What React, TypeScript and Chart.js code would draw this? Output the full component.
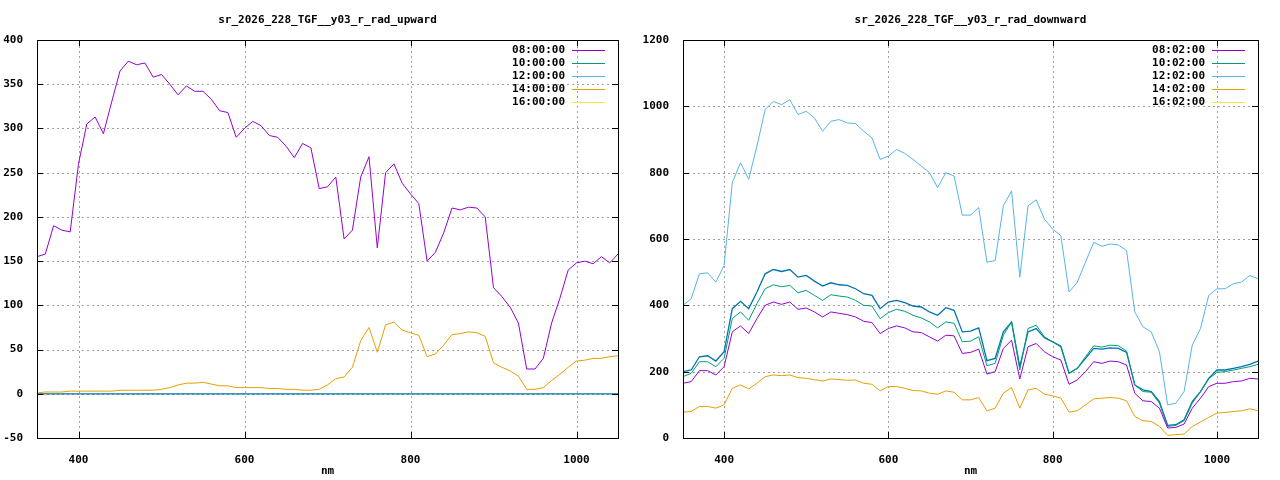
import React, { useEffect, useRef } from "react";
import { Chart, registerables } from "chart.js";
Chart.register(...registerables);

const wavelengths = Array.from({ length: 71 }, (_, i) => 350 + i * 10);
const xTicks = [400, 600, 800, 1000];

const upLabels = ["08:00:00", "10:00:00", "12:00:00", "14:00:00", "16:00:00"];
const downLabels = ["08:02:00", "10:02:00", "12:02:00", "14:02:00", "16:02:00"];
const colors = ["#9400d3", "#009e73", "#56b4e9", "#e69f00", "#f0e442", "#0072b2"];

const up08 = [155,158,190,185,183,260,305,313,294,330,365,376,372,374,358,361,350,338,348,342,342,333,320,318,290,300,308,303,292,290,280,267,283,278,232,234,245,175,185,245,268,165,250,260,238,226,215,150,160,182,210,208,211,210,200,120,110,98,80,28,28,40,80,108,140,148,150,147,155,148,158];
const up14 = [1,2,2,2,3,3,3,3,3,3,4,4,4,4,4,5,7,10,12,12,13,11,9,9,7,7,7,7,6,6,5,5,4,4,5,10,17,19,30,60,75,47,78,81,72,69,66,42,45,55,67,68,70,69,65,35,30,26,20,5,5,7,15,22,30,37,38,40,40,42,43];
const upZero = wavelengths.map(() => 0);

const dn08 = [165,170,203,203,190,215,320,338,315,360,400,410,403,410,388,392,380,365,380,376,372,365,352,348,315,330,338,332,320,318,305,292,310,308,255,258,268,193,200,270,295,178,275,285,260,245,235,162,175,200,230,225,232,230,220,135,112,110,90,30,32,42,90,120,155,165,165,170,172,180,178];
const dn10 = [185,195,230,230,215,240,360,380,355,405,450,462,456,460,438,445,430,415,432,428,425,415,400,398,360,378,388,382,370,362,350,332,350,346,290,292,305,218,225,310,350,205,330,340,305,290,278,195,210,245,278,274,280,278,262,160,140,138,105,35,38,52,105,140,178,198,200,205,210,215,222];
const dn12 = [400,420,495,498,470,520,770,830,780,880,990,1015,1005,1020,975,985,965,925,955,960,950,948,925,905,840,850,870,858,840,820,800,755,800,790,672,672,695,530,535,700,745,485,700,718,660,630,610,440,470,530,590,578,585,582,565,380,335,320,260,100,105,140,280,330,430,450,450,465,470,490,480];
const dn14 = [78,80,95,95,90,100,150,160,148,165,185,190,188,190,182,180,176,172,178,176,174,175,165,162,142,155,155,150,143,142,135,132,142,138,115,115,122,82,90,135,152,90,145,150,132,127,120,78,82,100,118,120,122,120,112,65,52,50,35,8,10,12,35,48,62,75,77,80,82,88,82];
const dn16x = [200,205,245,248,232,260,390,412,390,440,495,508,502,508,485,490,473,458,468,462,460,450,435,430,390,410,415,408,398,395,380,370,393,385,320,322,332,233,240,320,350,215,320,330,302,290,275,195,210,240,270,268,272,270,258,160,145,140,110,38,40,55,110,140,180,205,205,210,215,222,232];

const FONT = "'DejaVu Sans Mono', monospace";

function pts(v: number[]) {
  return v.map((y, i) => ({ x: wavelengths[i], y }));
}

const framePlugin = (title: string, labels: string[]) => ({
  id: "frame",
  beforeDatasetsDraw(chart: any) {
    const { ctx, chartArea: a } = chart;
    const xs = chart.scales.x, ys = chart.scales.y;
    ctx.save();
    ctx.strokeStyle = "#a0a0a0";
    ctx.lineWidth = 1;
    ctx.setLineDash([2, 3]);
    ctx.beginPath();
    xs.ticks.forEach((t: any) => {
      const px = Math.round(xs.getPixelForValue(t.value)) + 0.5;
      ctx.moveTo(px, a.bottom); ctx.lineTo(px, a.top);
    });
    ys.ticks.forEach((t: any) => {
      const py = Math.round(ys.getPixelForValue(t.value)) + 0.5;
      ctx.moveTo(a.left, py); ctx.lineTo(a.right, py);
    });
    ctx.stroke();
    ctx.restore();
  },
  afterDraw(chart: any) {
    const { ctx, chartArea: a } = chart;
    ctx.save();
    ctx.strokeStyle = "#000";
    ctx.lineWidth = 1;
    ctx.strokeRect(a.left + 0.5, a.top + 0.5, a.right - a.left, a.bottom - a.top);
    const xs = chart.scales.x, ys = chart.scales.y;
    ctx.beginPath();
    xs.ticks.forEach((t: any) => {
      const px = Math.round(xs.getPixelForValue(t.value)) + 0.5;
      ctx.moveTo(px, a.bottom); ctx.lineTo(px, a.bottom - 6);
      ctx.moveTo(px, a.top); ctx.lineTo(px, a.top + 6);
    });
    ys.ticks.forEach((t: any) => {
      const py = Math.round(ys.getPixelForValue(t.value)) + 0.5;
      ctx.moveTo(a.left, py); ctx.lineTo(a.left + 6, py);
      ctx.moveTo(a.right, py); ctx.lineTo(a.right - 6, py);
    });
    ctx.stroke();
    ctx.fillStyle = "#000";
    ctx.font = `bold 11px ${FONT}`;
    ctx.textAlign = "center";
    ctx.textBaseline = "middle";
    ctx.fillText(title, (a.left + a.right) / 2, 20);
    ctx.fillText("nm", (a.left + a.right) / 2, 471);
    ctx.textAlign = "right";
    labels.forEach((l, i) => {
      const y = a.top + 10 + i * 13;
      ctx.fillStyle = "#000";
      ctx.fillText(l, a.right - 53, y);
      ctx.strokeStyle = colors[i];
      ctx.beginPath();
      ctx.moveTo(a.right - 46, y + 0.5);
      ctx.lineTo(a.right - 13, y + 0.5);
      ctx.stroke();
    });
    ctx.restore();
  },
});

function Panel({ left, title, labels, series, yMin, yMax, yStep, yWidth }: any) {
  const ref = useRef<HTMLCanvasElement>(null);
  useEffect(() => {
    const chart = new Chart(ref.current!, {
      type: "line",
      data: {
        datasets: series.map((s: number[], i: number) => ({
          label: i < 5 ? labels[i] : "",
          data: pts(s),
          borderColor: colors[i],
          borderWidth: i === 5 ? 1.3 : 1,
          pointRadius: 0,
          fill: false,
          tension: 0,
        })),
      },
      options: {
        animation: false,
        responsive: false,
        devicePixelRatio: 1,
        layout: { padding: { top: 40, right: 22, left: 0, bottom: 0 } },
        plugins: { legend: { display: false }, title: { display: false }, tooltip: { enabled: false } },
        scales: {
          x: {
            type: "linear",
            min: 350,
            max: 1050,
            afterBuildTicks: (s: any) => { s.ticks = xTicks.map((v) => ({ value: v })); },
            afterFit: (s: any) => { s.height = 42; },
            grid: { display: false },
            border: { display: false },
            ticks: { color: "#000", font: { family: FONT, size: 11, weight: "bold" }, padding: 8, maxRotation: 0, callback: (v: any) => String(v) },
          },
          y: {
            min: yMin,
            max: yMax,
            afterFit: (s: any) => { s.width = yWidth; },
            grid: { display: false },
            border: { display: false },
            ticks: { stepSize: yStep, color: "#000", font: { family: FONT, size: 11, weight: "bold" }, padding: 6, callback: (v: any) => String(v) },
          },
        },
      },
      plugins: [framePlugin(title, labels)],
    });
    return () => chart.destroy();
  }, []);
  return (
    <canvas ref={ref} width={640} height={480}
      style={{ position: "absolute", left, top: 0, width: 640, height: 480 }} />
  );
}

export default function App() {
  useEffect(() => { document.body.style.margin = "0"; document.body.style.background = "#fff"; }, []);
  return (
    <div style={{ position: "relative", width: 1280, height: 480, background: "#fff" }}>
      <Panel left={0} title="sr_2026_228_TGF__y03_r_rad_upward" labels={upLabels}
        series={[up08, [], [], up14, [], upZero]} yMin={-50} yMax={400} yStep={50} yWidth={37} />
      <Panel left={640} title="sr_2026_228_TGF__y03_r_rad_downward" labels={downLabels}
        series={[dn08, dn10, dn12, dn14, [], dn16x]} yMin={0} yMax={1200} yStep={200} yWidth={43} />
    </div>
  );
}
